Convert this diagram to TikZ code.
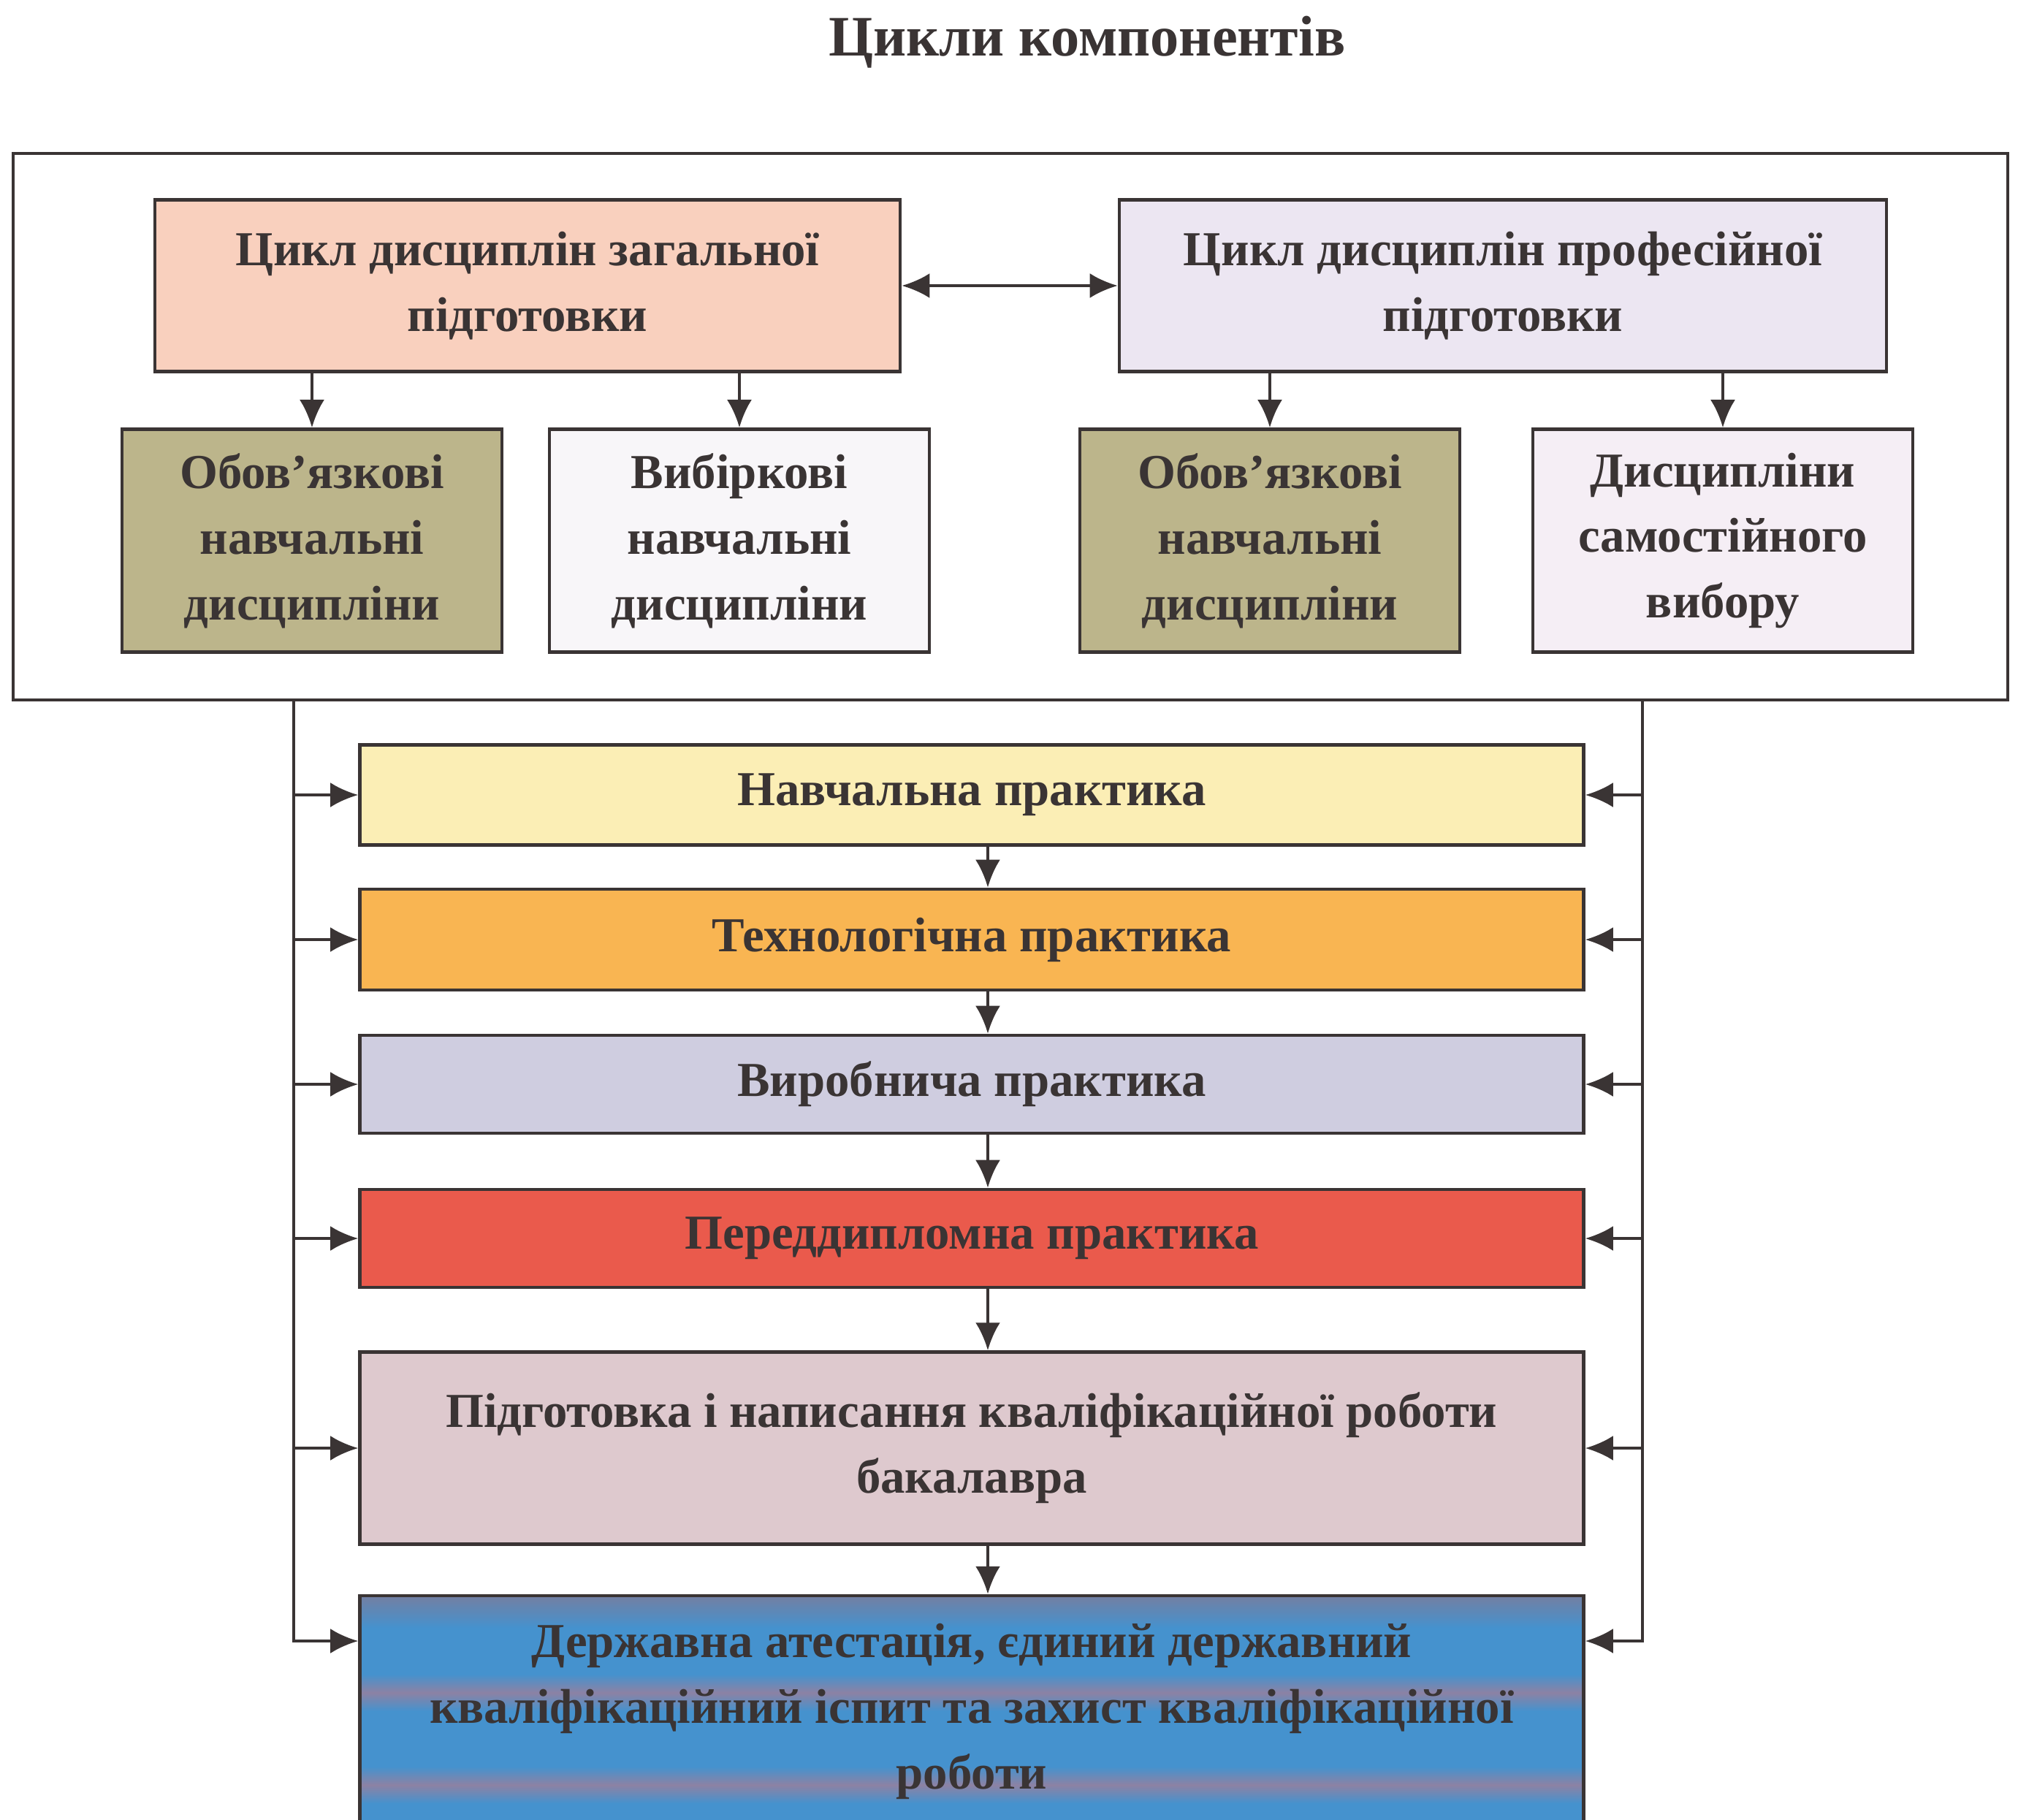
\documentclass[tikz,border=0pt]{standalone}
\usepackage{fontspec}
\setmainfont{Liberation Serif}
\usetikzlibrary{arrows.meta,positioning}
\definecolor{Ink}{HTML}{3A3434}
\definecolor{Peach}{HTML}{F9D0BE}
\definecolor{Lilac}{HTML}{ECE6F2}
\definecolor{Khaki}{HTML}{BCB58B}
\definecolor{Snow}{HTML}{F8F6F9}
\definecolor{Blush}{HTML}{F5EEF5}
\definecolor{Cream}{HTML}{FBEEB5}
\definecolor{Amber}{HTML}{F9B552}
\definecolor{Haze}{HTML}{CFCDE0}
\definecolor{Coral}{HTML}{EA5A4C}
\definecolor{Rose}{HTML}{DEC9CE}
\definecolor{SteelTop}{HTML}{737FA2}
\definecolor{SteelBlue}{HTML}{4592CE}
\definecolor{Mauve}{HTML}{8C82A4}
\pgfdeclareverticalshading{derzhbands}{100bp}{color(0bp)=(SteelBlue); color(30bp)=(SteelBlue); color(34bp)=(Mauve); color(38bp)=(SteelBlue); color(50bp)=(SteelBlue); color(54bp)=(Mauve); color(58bp)=(SteelBlue); color(68bp)=(SteelBlue); color(75bp)=(SteelTop); color(100bp)=(SteelTop)}

\begin{document}
\begin{tikzpicture}[x=1cm,y=1cm,>={Latex[length=3.8mm,width=3.4mm]},
    every node/.style={font=\fontsize{19}{25.6}\selectfont\bfseries,text=Ink},
    box/.style={draw=Ink,line width=1.3pt,align=center,inner sep=2pt},
    link/.style={->,draw=Ink,line width=1.2pt}]
      \useasboundingbox (0,0) rectangle (27.62,-24.90);
      \clip (0,0) rectangle (27.62,-24.90);

      \node[font=\fontsize{22.3}{27}\selectfont\bfseries] (title) at (14.88,-0.58) {Цикли компонентів};
      \node[draw=Ink,line width=1.1pt,minimum width=27.3cm,minimum height=7.48cm] (cycles) at (13.83,-5.84) {};

      % cycles of disciplines
      \node[box,fill=Peach,minimum width=10.2cm,minimum height=2.35cm] (zag) at (7.22,-3.91) {Цикл дисциплін загальної\\підготовки};
      \node[box,fill=Lilac,minimum width=10.5cm,minimum height=2.35cm] (prof) at (20.57,-3.91) {Цикл дисциплін професійної\\підготовки};
      \node[box,fill=Khaki,minimum width=5.2cm,minimum height=3.05cm] (zagobov) at (4.27,-7.40) {Обов’язкові\\навчальні\\дисципліни};
      \node[box,fill=Snow,minimum width=5.2cm,minimum height=3.05cm] (zagvyb) at (10.12,-7.40) {Вибіркові\\навчальні\\дисципліни};
      \node[box,fill=Khaki,minimum width=5.2cm,minimum height=3.05cm] (profobov) at (17.38,-7.40) {Обов’язкові\\навчальні\\дисципліни};
      \node[box,fill=Blush,minimum width=5.2cm,minimum height=3.05cm] (profsam) at (23.58,-7.40) {Дисципліни\\самостійного\\вибору};

      \draw[link,<->] (zag) -- (prof);
      \foreach \up/\down in {zag/zagobov,zag/zagvyb,prof/profobov,prof/profsam} {
        \draw[link] (\up.south -| \down.north) -- (\down.north);
      }

      % practices
      \node[box,fill=Cream,minimum width=16.75cm,minimum height=1.37cm] (nav) at (13.30,-10.88) {Навчальна практика};
      \node[box,fill=Amber,minimum width=16.75cm,minimum height=1.38cm] (tech) at (13.30,-12.86) {Технологічна практика};
      \node[box,fill=Haze,minimum width=16.75cm,minimum height=1.34cm] (vyr) at (13.30,-14.84) {Виробнича практика};
      \node[box,fill=Coral,minimum width=16.75cm,minimum height=1.34cm] (pered) at (13.30,-16.95) {Переддипломна практика};
      \node[box,fill=Rose,minimum width=16.75cm,minimum height=2.63cm] (pidg) at (13.30,-19.82) {Підготовка і написання кваліфікаційної роботи\\бакалавра};
      \node[box,shade,shading=derzhbands,minimum width=16.75cm,minimum height=3.16cm] (derzh) at (13.30,-23.42) {Державна атестація, єдиний державний\\кваліфікаційний іспит та захист кваліфікаційної\\роботи};

      \foreach \a/\b in {nav/tech,tech/vyr,vyr/pered,pered/pidg,pidg/derzh} {
        \draw[link] ([xshift=0.22cm]\a.south) -- ([xshift=0.22cm]\b.north);
      }

      \coordinate (lbus) at (4.02,-9.58);
      \coordinate (rbus) at (22.48,-9.58);
      \coordinate (lastrow) at (13.30,-22.46);
      \draw[link] (lbus) |- (derzh.west |- lastrow);
      \draw[link] (rbus) |- (derzh.east |- lastrow);
      \foreach \n in {nav,tech,vyr,pered,pidg} {
        \draw[link] (lbus |- \n.west) -- (\n.west);
        \draw[link] (rbus |- \n.east) -- (\n.east);
      }
    \end{tikzpicture}
\end{document}
